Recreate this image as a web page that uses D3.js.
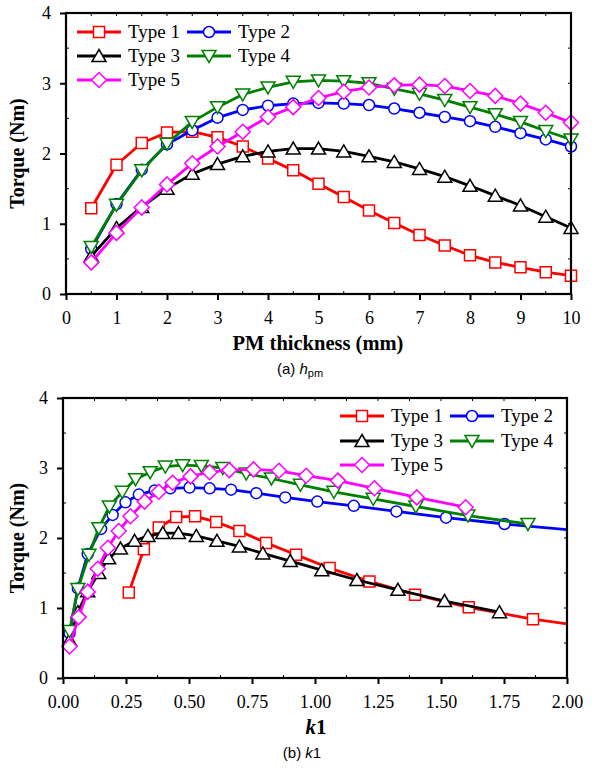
<!DOCTYPE html>
<html><head><meta charset="utf-8">
<script src="https://cdn.jsdelivr.net/npm/d3@7"></script>
<style>body{margin:0;background:#fff}svg{display:block}</style>
</head><body>
<script>
// ---------- data ----------
const seriesNames = ["Type 1","Type 2","Type 3","Type 4","Type 5"];
const seriesColors = ["#ff0000","#0000ff","#000000","#008000","#ff00ff"];
const seriesMarkers = ["square","circle","triangleUp","triangleDown","diamond"];
const hpm = [0.5,1,1.5,2,2.5,3,3.5,4,4.5,5,5.5,6,6.5,7,7.5,8,8.5,9,9.5,10];
const torque1 = [1.22,1.84,2.15,2.30,2.31,2.23,2.10,1.93,1.76,1.57,1.38,1.19,1.01,0.84,0.69,0.55,0.45,0.38,0.31,0.26];
const torque2 = [0.64,1.28,1.77,2.13,2.33,2.51,2.62,2.68,2.71,2.72,2.71,2.69,2.64,2.58,2.52,2.46,2.38,2.29,2.20,2.10];
const torque3 = [0.54,0.94,1.24,1.50,1.71,1.85,1.96,2.03,2.07,2.07,2.03,1.96,1.88,1.78,1.67,1.54,1.40,1.26,1.10,0.94];
const torque4 = [0.67,1.27,1.76,2.14,2.45,2.66,2.84,2.94,3.02,3.04,3.03,3.00,2.92,2.85,2.76,2.66,2.56,2.45,2.32,2.20];
const torque5 = [0.45,0.87,1.23,1.56,1.86,2.10,2.31,2.52,2.66,2.79,2.88,2.94,2.97,2.98,2.96,2.89,2.82,2.71,2.58,2.44];
const k1Type1 = [0.261,0.321,0.380,0.449,0.524,0.608,0.700,0.806,0.925,1.058,1.216,1.397,1.610,1.865,2.17];
const k1Type2 = [0.026,0.059,0.098,0.151,0.197,0.248,0.301,0.364,0.426,0.502,0.582,0.667,0.767,0.882,1.009,1.154,1.323,1.520,1.752,2.06];
const k1Type3 = [0.026,0.059,0.098,0.142,0.181,0.228,0.284,0.337,0.396,0.458,0.529,0.611,0.700,0.793,0.902,1.027,1.166,1.329,1.514,1.732];
const k1Type4 = [0.026,0.059,0.103,0.142,0.184,0.235,0.288,0.346,0.406,0.475,0.549,0.634,0.727,0.827,0.942,1.075,1.231,1.400,1.607,1.845];
const k1Type5 = [0.026,0.062,0.098,0.138,0.178,0.221,0.268,0.324,0.380,0.435,0.506,0.582,0.660,0.756,0.857,0.965,1.091,1.236,1.404,1.598];
const xTicksTop = [0,1,2,3,4,5,6,7,8,9,10];
const xTicksBottom = [0,0.25,0.5,0.75,1,1.25,1.5,1.75,2];
const yTicks = [0,1,2,3,4];

const torques = [torque1,torque2,torque3,torque4,torque5];
const k1s = [k1Type1,k1Type2,k1Type3,k1Type4,k1Type5];

const W = 596, H = 768;
const svg = d3.select("body").append("svg").attr("width",W).attr("height",H);
const serif = "'Liberation Serif','Times New Roman',serif";
const sans = "'Liberation Sans',Arial,sans-serif";

function markerPath(type){
  switch(type){
    case "square": return "M-5.5,-5.5H5.5V5.5H-5.5Z";
    case "circle": return d3.symbol(d3.symbolCircle, Math.PI*5.5*5.5)();
    case "triangleUp": return "M0,-6.5L7,5.5L-7,5.5Z";
    case "triangleDown": return "M0,6.5L7,-5.5L-7,-5.5Z";
    case "diamond": return "M0,-7.5L7.5,0L0,7.5L-7.5,0Z";
  }
}

function drawPanel(opts){
  const {x, y, xTicks, xMinor, xFrame, yMinor, yFrame, fmt, id, xDomainMax} = opts;
  const g = svg.append("g");
  const [x0,x1] = x.range(), [y0,y1] = y.range();
  g.append("clipPath").attr("id",id).append("rect")
    .attr("x",x0).attr("y",y1).attr("width",x1-x0).attr("height",y0-y1);

  // small inward ticks
  const tg = g.append("g").attr("stroke","#000").attr("stroke-width",1);
  xFrame.forEach(v=>{
    tg.append("line").attr("x1",x(v)).attr("x2",x(v)).attr("y1",y1).attr("y2",y1+3);
  });
  xMinor.forEach(v=>{
    tg.append("line").attr("x1",x(v)).attr("x2",x(v)).attr("y1",y0).attr("y2",y0-3);
  });
  yMinor.forEach(v=>{
    tg.append("line").attr("x1",x0).attr("x2",x0+3).attr("y1",y(v)).attr("y2",y(v));
  });
  yFrame.forEach(v=>{
    tg.append("line").attr("x1",x1).attr("x2",x1-3).attr("y1",y(v)).attr("y2",y(v));
  });

  // axes
  const ax = g.append("g").attr("transform",`translate(0,${y0})`)
    .call(d3.axisBottom(x).tickValues(xTicks).tickSize(6).tickPadding(11).tickFormat(fmt));
  const ay = g.append("g").attr("transform",`translate(${x0},0)`)
    .call(d3.axisLeft(y).tickValues(yTicks).tickSize(6).tickPadding(9).tickFormat(d3.format("d")));
  [ax,ay].forEach(a=>{
    a.select(".domain").remove();
    a.selectAll(".tick line").attr("stroke","#000").attr("stroke-width",2);
    a.selectAll("text").attr("font-family",serif).attr("font-size",18).attr("fill","#000");
  });

  // series
  const line = d3.line().x(d=>x(d[0])).y(d=>y(d[1]));
  const dataG = g.append("g");
  opts.series.forEach((pts,i)=>{
    dataG.append("path").datum(pts).attr("d",line).attr("fill","none")
      .attr("stroke",seriesColors[i]).attr("stroke-width",2.8)
      .attr("stroke-linejoin","round").attr("clip-path",`url(#${id})`);
    dataG.selectAll(null).data(pts.filter(d=>d[0]<=xDomainMax)).enter().append("path")
      .attr("d",markerPath(seriesMarkers[i]))
      .attr("transform",d=>`translate(${x(d[0])},${y(d[1])})`)
      .attr("fill","#fff").attr("stroke",seriesColors[i]).attr("stroke-width",1.5);
  });

  // frame
  g.append("rect").attr("x",x0).attr("y",y1).attr("width",x1-x0).attr("height",y0-y1)
    .attr("fill","none").attr("stroke","#000").attr("stroke-width",2.2);

  // legend
  const lg = g.append("g");
  opts.legend.forEach((p,i)=>{
    const [lx,ly] = p;
    lg.append("line").attr("x1",lx).attr("x2",lx+44).attr("y1",ly).attr("y2",ly)
      .attr("stroke",seriesColors[i]).attr("stroke-width",2.8);
    lg.append("path").attr("d",markerPath(seriesMarkers[i]))
      .attr("transform",`translate(${lx+22},${ly})`)
      .attr("fill","#fff").attr("stroke",seriesColors[i]).attr("stroke-width",1.5);
    lg.append("text").attr("x",lx+51).attr("y",ly+6).text(seriesNames[i])
      .attr("font-family",serif).attr("font-size",19).attr("fill","#000");
  });

  // y title
  g.append("text").attr("transform",`translate(${opts.yTitleX},${(y0+y1)/2}) rotate(-90)`)
    .attr("text-anchor","middle").attr("font-family",serif).attr("font-weight","bold")
    .attr("font-size",20).text("Torque (Nm)");
  return g;
}

// ----- panel (a) -----
const xa = d3.scaleLinear().domain([0,10]).range([66,571]);
const ya = d3.scaleLinear().domain([0,4]).range([294,13]);
const ga = drawPanel({
  id:"clipA", x:xa, y:ya, xTicks:xTicksTop, fmt:d3.format("d"), xDomainMax:10.5,
  xMinor:d3.range(0.5,10,1), xFrame:d3.range(0.5,10,0.5),
  yMinor:d3.range(0.5,4,1), yFrame:d3.range(0.5,4,0.5),
  series: torques.map(t=>hpm.map((h,j)=>[h,t[j]])),
  legend:[[77,32],[187,32],[77,56],[187,56],[77,80]],
  yTitleX:24
});
ga.append("text").attr("x",318).attr("y",350).attr("text-anchor","middle")
  .attr("font-family",serif).attr("font-weight","bold").attr("font-size",20.5).text("PM thickness (mm)");
const ca = ga.append("text").attr("x",300).attr("y",374).attr("text-anchor","middle")
  .attr("font-family",sans).attr("font-size",15);
ca.append("tspan").text("(a) ");
ca.append("tspan").attr("font-style","italic").text("h");
ca.append("tspan").attr("font-size",11).attr("dy",3).text("pm");

// ----- panel (b) -----
const xb = d3.scaleLinear().domain([0,2]).range([63,567]);
const yb = d3.scaleLinear().domain([0,4]).range([678,398]);
const gb = drawPanel({
  id:"clipB", x:xb, y:yb, xTicks:xTicksBottom, fmt:d3.format(".2f"), xDomainMax:2,
  xMinor:d3.range(0.125,2,0.25), xFrame:d3.range(0.125,2,0.125),
  yMinor:d3.range(0.5,4,1), yFrame:d3.range(0.5,4,0.5),
  series: torques.map((t,i)=>k1s[i].map((k,j)=>[k,t[j]])),
  legend:[[340,416],[450,416],[340,441],[450,441],[340,465]],
  yTitleX:24
});
const tb = gb.append("text").attr("x",316).attr("y",734).attr("text-anchor","middle")
  .attr("font-family",serif).attr("font-weight","bold").attr("font-size",21);
tb.append("tspan").attr("font-style","italic").text("k");
tb.append("tspan").text("1");
const cb = gb.append("text").attr("x",302).attr("y",758).attr("text-anchor","middle")
  .attr("font-family",sans).attr("font-size",15);
cb.append("tspan").text("(b) ");
cb.append("tspan").attr("font-style","italic").text("k");
cb.append("tspan").text("1");
</script>
</body></html>
